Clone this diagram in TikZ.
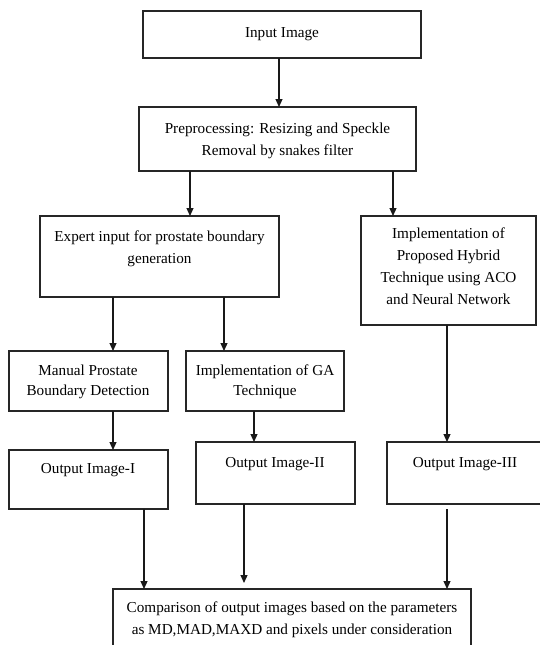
\documentclass[tikz,border=0pt]{standalone}
\usepackage{fontspec}
\setmainfont{Liberation Serif}
\usetikzlibrary{arrows.meta}
\tikzset{
  box/.style={draw=black!85, line width=1.4pt, inner sep=0pt, outer sep=0pt, fill=none},
  txt/.style={inner sep=0pt, outer sep=0pt, align=center, anchor=north,
              font=\fontsize{15.2pt}{22pt}\selectfont},
  txts/.style={txt, font=\fontsize{15.2pt}{20pt}\selectfont},
  arr/.style={line width=1.2pt, draw=black!90, -{Triangle[length=8pt,width=7pt]}}
}
\newcommand{\fs}{\rule{0pt}{11pt}}
\begin{document}
\begin{tikzpicture}[x=1pt,y=-1pt]
\useasboundingbox (0,0) rectangle (540,645);
\clip (0,0) rectangle (540,645);
\fill[white] (0,0) rectangle (540,645);
% boxes
\node[box, minimum width=278pt, minimum height=47pt] (inp) at (282,34.5) {};
\node[box, minimum width=277pt, minimum height=64pt] (pre) at (277.5,139) {};
\node[box, minimum width=239pt, minimum height=81pt] (ex) at (159.5,256.5) {};
\node[box, minimum width=175pt, minimum height=109pt] (prop) at (448.5,270.5) {};
\node[box, minimum width=159pt, minimum height=60pt] (man) at (88.5,381) {};
\node[box, minimum width=158pt, minimum height=60pt] (ga) at (265,381) {};
\node[box, minimum width=159pt, minimum height=59pt] (o1) at (88.5,479.5) {};
\node[box, minimum width=159pt, minimum height=62pt] (o2) at (275.5,473) {};
\node[box, minimum width=158pt, minimum height=62pt] (o3) at (466,473) {};
\node[box, minimum width=358pt, minimum height=71pt] (cmp) at (292,624.5) {};
% texts
\node[txt] (inpT) at (282,26) {\fs Input Image};
\node[txt] (preT) at (277.5,122) {\fs Preprocessing: Resizing and Speckle\\Removal by snakes filter};
\node[txt] (exT) at (159.5,230) {\fs Expert input for prostate boundary\\generation};
\node[txt] (propT) at (448.5,227) {\fs Implementation of\\Proposed Hybrid\\Technique using ACO\\and Neural Network};
\node[txts] (manT) at (88,364) {\fs Manual Prostate\\Boundary Detection};
\node[txts] (gaT) at (265,364) {\fs Implementation of GA\\Technique};
\node[txt] (o1T) at (88,462) {\fs Output Image-I};
\node[txt] (o2T) at (275,456) {\fs Output Image-II};
\node[txt] (o3T) at (465,456) {\fs Output Image-III};
\node[txt] (cmpT) at (292,601) {\fs Comparison of output images based on the parameters\\as MD,MAD,MAXD and pixels under consideration};
% connectors
\draw[arr] (inp.south -| 279,0) -- (pre.north -| 279,0);
\draw[arr] (pre.south -| 190,0) -- (ex.north -| 190,0);
\draw[arr] (pre.south -| 393,0) -- (prop.north -| 393,0);
\draw[arr] (ex.south -| 113,0) -- (man.north -| 113,0);
\draw[arr] (ex.south -| 224,0) -- (ga.north -| 224,0);
\draw[arr] (prop.south -| 447,0) -- (o3.north -| 447,0);
\draw[arr] (man.south -| 113,0) -- (o1.north -| 113,0);
\draw[arr] (ga.south -| 254,0) -- (o2.north -| 254,0);
\draw[arr] (o1.south -| 144,0) -- (cmp.north -| 144,0);
\draw[arr, shorten >=6pt] (o2.south -| 244,0) -- (cmp.north -| 244,0);
\draw[arr, shorten <=5pt] (o3.south -| 447,0) -- (cmp.north -| 447,0);
\end{tikzpicture}
\end{document}
